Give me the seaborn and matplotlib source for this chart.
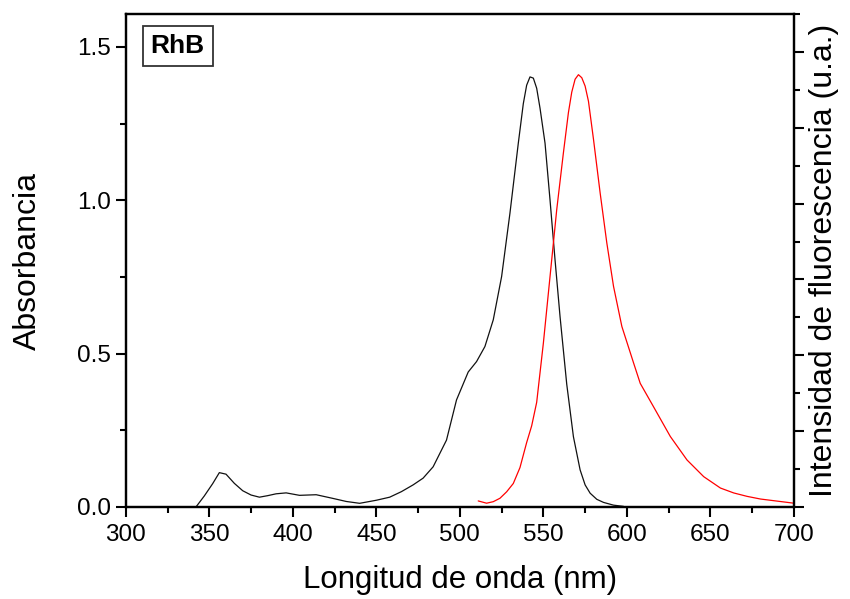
import numpy as np
import pandas as pd
import matplotlib
matplotlib.use("Agg")
import matplotlib.pyplot as plt
import seaborn as sns
from matplotlib.ticker import MultipleLocator

# absorption spectrum (left axis)
abs_nm = [342, 347, 352, 356, 360, 365, 370, 375, 380, 385, 390, 396, 404, 414,
          424, 432, 440, 450, 458, 465, 472, 478, 484, 492, 498, 505, 510, 515,
          520, 525, 530, 535, 538, 540, 542, 544, 546, 548, 551, 554, 557, 560,
          564, 568, 572, 575, 578, 582, 586, 592, 598]
abs_val = [0.0, 0.036, 0.076, 0.112, 0.107, 0.077, 0.053, 0.039, 0.032, 0.037,
           0.043, 0.046, 0.038, 0.040, 0.028, 0.018, 0.012, 0.022, 0.032, 0.050,
           0.072, 0.094, 0.131, 0.218, 0.349, 0.440, 0.474, 0.523, 0.610, 0.751,
           0.958, 1.186, 1.315, 1.375, 1.402, 1.398, 1.365, 1.300, 1.186, 1.000,
           0.805, 0.620, 0.400, 0.229, 0.121, 0.072, 0.045, 0.025, 0.015, 0.006,
           0.002]

# fluorescence spectrum (right axis, arbitrary units)
fl_nm = [511, 516, 520, 524, 528, 532, 536, 540, 543, 546, 550, 554, 558, 562,
         565, 567, 569, 571, 573, 575, 577, 580, 584, 588, 592, 597, 604, 608,
         616, 626, 636, 646, 656, 664, 672, 680, 688, 700]
fl_val = [0.08, 0.05, 0.07, 0.115, 0.20, 0.31, 0.52, 0.85, 1.07, 1.38, 2.16,
          3.04, 3.92, 4.67, 5.20, 5.47, 5.64, 5.70, 5.66, 5.55, 5.35, 4.85,
          4.14, 3.48, 2.91, 2.38, 1.90, 1.63, 1.32, 0.93, 0.62, 0.40, 0.25,
          0.185, 0.14, 0.105, 0.083, 0.05]

df_abs = pd.DataFrame({"nm": abs_nm, "A": abs_val})
df_fl = pd.DataFrame({"nm": fl_nm, "F": fl_val})

sns.set_theme(style="ticks")
plt.rcParams['font.family'] = ['Liberation Sans', 'DejaVu Sans']
plt.rcParams['text.color'] = 'black'
plt.rcParams['axes.labelcolor'] = 'black'

fig = plt.figure(figsize=(8.5, 5.99), dpi=100)
ax = fig.add_axes([0.148, 0.1536, 0.786, 0.823])
ax2 = ax.twinx()

sns.lineplot(data=df_abs, x="nm", y="A", color="#111111", lw=0.9, ax=ax, sort=False)
sns.lineplot(data=df_fl, x="nm", y="F", color="red", lw=0.9, ax=ax2, sort=False)

ax.set_xlim(300, 700)
ax.set_ylim(0, 1.607)
ax2.set_ylim(0, 6.5)

ax.xaxis.set_major_locator(MultipleLocator(50))
ax.xaxis.set_minor_locator(MultipleLocator(25))
ax.yaxis.set_major_locator(MultipleLocator(0.5))
ax.yaxis.set_minor_locator(MultipleLocator(0.25))
ax.yaxis.set_major_formatter(matplotlib.ticker.FormatStrFormatter('%.1f'))
ax2.yaxis.set_major_locator(MultipleLocator(1))
ax2.yaxis.set_minor_locator(MultipleLocator(0.5))
ax2.set_yticklabels([])

for a in (ax, ax2):
    for s in a.spines.values():
        s.set_linewidth(1.6)
        s.set_color("black")
    a.tick_params(which="major", length=7, width=1.5, color="black", direction="out")
    a.tick_params(which="minor", length=4, width=1.5, color="black", direction="out")

ax.tick_params(axis="both", which="both", labelsize=17.5, labelcolor="black")
ax.tick_params(axis="y", which="both", right=False, pad=4)
ax.tick_params(axis="x", which="both", top=False, pad=5)
ax2.tick_params(axis="y", which="both", right=True, left=False, labelright=False)

ax.set_xlabel("Longitud de onda (nm)", fontsize=22.5, labelpad=14)
ax.set_ylabel("Absorbancia", fontsize=23, labelpad=24)
ax2.set_ylabel("Intensidad de fluorescencia (u.a.)", fontsize=23, labelpad=4)

ax.text(0.037, 0.935, "RhB", transform=ax.transAxes, fontsize=19, fontweight="bold",
        color="black", ha="left", va="center",
        bbox=dict(boxstyle="square,pad=0.3", fc="white", ec="#333333", lw=1.3))

fig.savefig("out.png", dpi=100)
